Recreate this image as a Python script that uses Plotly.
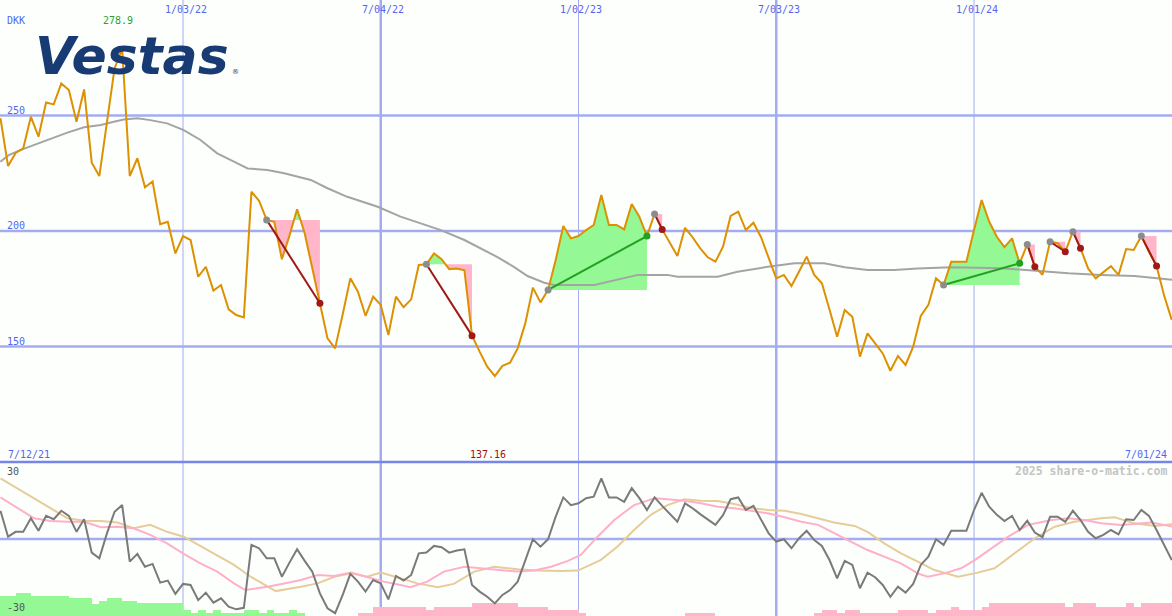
import plotly.graph_objects as go

W, H = 1172, 616

# ---------------- data ----------------
price = [248.8, 228.1, 233.8, 235.8, 249.5, 240.8, 255.6, 254.8, 263.9, 261.0,
         247.3, 261.3, 229.6, 223.8, 247.0, 270.4, 278.9, 223.8, 231.5, 218.9,
         221.4, 202.9, 204.0, 190.3, 197.8, 196.1, 180.2, 184.5, 174.2, 176.6,
         166.1, 163.6, 162.6, 217.0, 213.1, 204.8, 204.0, 187.8, 198.0, 209.4,
         199.0, 184.5, 168.7, 153.5, 149.2, 164.0, 179.5, 173.7, 163.3, 171.6,
         168.0, 155.0, 171.6, 167.0, 170.4, 185.3, 185.6, 190.3, 187.8, 183.5,
         183.8, 183.0, 154.7, 147.8, 141.3, 137.16, 141.6, 143.0, 149.2, 160.0,
         175.5, 169.1, 174.5, 187.4, 202.2, 196.8, 197.8, 200.4, 202.6, 215.6,
         202.6, 202.6, 200.7, 211.7, 206.2, 197.8, 207.4, 200.7, 194.7, 189.2,
         201.4, 197.3, 192.5, 188.6, 186.7, 193.2, 206.5, 208.4, 200.4, 203.6,
         197.3, 188.2, 179.5, 181.0, 176.2, 182.5, 188.9, 181.0, 177.4, 166.0,
         154.2, 165.8, 162.9, 145.6, 155.7, 151.4, 147.0, 139.5, 145.9, 142.0,
         149.9, 163.2, 168.0, 179.5, 176.6, 186.7, 186.7, 186.7, 200.4, 213.4,
         204.0, 197.5, 193.0, 196.8, 186.0, 194.2, 184.5, 181.0, 195.4, 194.7,
         191.0, 199.7, 192.5, 183.8, 179.5, 182.0, 184.8, 181.0, 192.2, 191.8,
         197.8, 191.0, 184.8, 172.0, 161.5]

# moving average (week index, value)
ma_week = [0, 1.1, 2.6, 4.4, 6.6, 8.8, 11.0, 13.2, 14.9, 16.2, 18.0, 19.7, 21.9, 24.1,
           26.3, 28.5, 30.7, 32.5, 35.1, 37.3, 40.8, 43.0, 45.6, 49.6, 52.6, 55.7,
           57.9, 61.0, 63.2, 65.4, 67.5, 69.3, 71.5, 72.8, 78.1, 81.1, 83.8, 87.7,
           89.0, 94.3, 96.9, 100.9, 104.4, 108.3, 111.0, 114.0, 117.5, 120.6, 125.0,
           131.6, 136.0, 140.4, 144.7, 149.1, 154.2]
ma_val = [230.0, 232.9, 235.0, 237.2, 240.1, 242.6, 244.9, 245.9, 247.3, 248.3, 248.8,
          248.0, 246.6, 243.7, 239.4, 233.6, 230.0, 227.1, 226.4, 225.0, 222.1, 218.5,
          214.8, 210.5, 206.2, 203.0, 200.4, 196.1, 192.5, 188.6, 184.5, 180.5, 177.6,
          176.6, 176.6, 178.8, 181.0, 181.0, 180.2, 180.2, 182.4, 184.5, 186.0, 186.0,
          184.3, 183.1, 183.1, 183.8, 184.3, 183.9, 182.8, 181.7, 181.0, 180.5, 178.8]

# trend patterns (start week, end week)
pat_start = [35, 56, 72, 86, 124, 135, 138, 141, 150]
pat_end = [42, 62, 85, 87, 134, 136, 140, 142, 152]

# lower panel oscillator
osc = [11.0, 0.9, 2.8, 2.8, 8.1, 3.2, 9.0, 7.7, 11.0, 9.0,
       2.8, 7.7, -5.3, -7.5, 2.2, 10.6, 13.2, -8.8, -5.8, -10.8,
       -9.7, -17.0, -16.2, -21.4, -17.5, -17.9, -23.8, -20.9, -24.8, -23.1,
       -26.4, -27.4, -26.8, -2.3, -3.6, -7.5, -7.5, -14.7, -9.2, -4.0,
       -8.5, -12.7, -21.2, -27.0, -28.9, -21.8, -13.6, -16.6, -20.5, -16.0,
       -17.3, -23.5, -14.4, -16.2, -14.0, -5.6, -5.3, -2.7, -3.2, -5.3,
       -4.5, -4.0, -17.9, -20.5, -22.5, -25.1, -21.8, -19.9, -16.6, -8.2,
       -0.1, -3.0, -0.1, 8.7, 16.2, 13.2, 13.9, 15.9, 16.5, 23.6,
       16.2, 16.2, 14.5, 19.8, 15.9, 11.3, 16.2, 12.9, 10.0, 6.7,
       13.9, 12.0, 9.7, 7.7, 5.5, 9.3, 15.5, 16.2, 11.3, 12.9,
       7.4, 2.2, -1.0, -0.1, -3.6, 0.3, 3.2, -0.4, -2.7, -8.2,
       -15.3, -8.5, -10.1, -19.2, -13.1, -14.9, -17.9, -22.5, -18.6, -20.9,
       -17.5, -10.1, -6.9, -0.1, -2.3, 3.2, 3.2, 3.2, 11.3, 18.0,
       12.6, 9.4, 7.0, 9.0, 3.5, 7.1, 2.5, 0.7, 8.7, 8.7,
       6.7, 11.0, 7.4, 2.8, 0.3, 1.6, 3.5, 1.8, 7.7, 7.4,
       11.3, 9.0, 3.5, -2.3, -8.2]

pink_week = [0, 2.2, 4.4, 6.6, 8.8, 11.0, 13.2, 15.4, 17.5, 19.7, 21.9, 24.1, 26.3, 28.5,
             30.7, 32.2, 35.1, 37.3, 39.5, 41.7, 43.9, 46.1, 48.2, 50.4, 52.6, 53.9, 56.1,
             58.3, 61.0, 63.6, 65.8, 68.0, 70.2, 72.4, 74.6, 76.3, 78.5, 80.7, 83.3, 86.0,
             87.7, 89.9, 92.1, 94.3, 96.5, 98.7, 100.9, 103.1, 105.3, 107.5, 109.6, 111.8,
             114.0, 116.2, 118.4, 120.6, 121.9, 124.1, 126.3, 128.1, 130.3, 132.5, 135.1,
             138.2, 140.4, 142.5, 144.7, 147.4, 151.3, 154.2]
pink_val = [16.2, 12.0, 8.1, 7.0, 6.7, 6.7, 4.6, 4.8, 4.2, 1.6, -1.7, -5.8, -9.5, -12.7,
            -17.3, -19.9, -18.6, -17.3, -16.0, -14.0, -14.4, -13.1, -14.7, -16.6, -17.9,
            -18.8, -16.6, -12.7, -10.8, -11.4, -12.1, -12.7, -12.3, -10.8, -8.5, -6.2, 0.9,
            7.4, 13.2, 15.9, 15.5, 14.9, 13.9, 12.6, 12.0, 11.0, 10.0, 8.5, 6.7, 5.5, 2.2,
            -1.0, -4.3, -6.9, -9.5, -13.4, -14.7, -13.4, -11.4, -8.2, -3.6, 0.9, 5.5, 7.4,
            8.1, 7.4, 6.1, 5.5, 6.4, 4.8]

tan_week = [0, 2.2, 4.4, 6.6, 8.8, 11.0, 13.2, 15.4, 17.5, 19.7, 21.9, 24.1, 26.3, 28.5,
            30.7, 32.9, 35.1, 36.2, 39.5, 41.7, 43.9, 46.1, 48.2, 50.0, 52.6, 54.8, 57.5,
            59.6, 62.3, 64.9, 68.0, 70.6, 73.7, 75.9, 78.9, 81.1, 83.3, 85.5, 87.7, 89.9,
            92.1, 94.3, 96.5, 98.7, 100.9, 103.1, 105.3, 107.5, 109.6, 112.3, 114.0, 116.2,
            118.4, 120.6, 122.8, 125.9, 128.5, 130.7, 133.3, 136.0, 138.6, 141.2, 144.7,
            146.5, 149.1, 151.8, 154.2]
tan_val = [23.6, 19.8, 15.9, 12.0, 8.1, 7.1, 7.0, 6.4, 4.2, 5.5, 2.8, 0.9, -2.7, -6.2,
           -10.1, -14.7, -18.6, -20.3, -18.6, -17.3, -14.7, -13.4, -14.7, -13.1, -15.3,
           -17.3, -18.8, -17.5, -12.7, -10.8, -11.8, -12.3, -12.5, -12.3, -8.2, -3.0, 3.5,
           9.4, 13.2, 15.5, 14.9, 14.8, 13.6, 12.0, 11.3, 11.0, 9.7, 8.1, 6.4, 5.1, 2.8,
           -1.7, -5.6, -8.8, -12.1, -14.7, -13.1, -11.4, -5.6, 0.3, 4.8, 6.7, 8.1, 8.5,
           6.1, 5.1, 5.8]

# histogram (negative = green, positive = pink), one bar per week interval
hist = [-7.8, -7.8, -9.0, -9.0, -7.8, -7.8, -7.8, -7.8, -7.8, -7.0,
        -7.0, -7.0, -4.7, -5.8, -7.0, -7.0, -5.8, -5.8, -4.9, -4.9,
        -4.9, -4.9, -4.9, -4.9, -2.3, -1.2, -2.3, -1.2, -2.3, -1.2,
        -1.2, -1.2, -2.3, -2.3, -1.2, -2.3, -1.2, -1.2, -2.3, -1.2,
        0, 0, 0, 0, 0, 0, 0, 1.2, 1.2, 3.6,
        3.6, 3.6, 3.6, 3.6, 3.6, 3.6, 2.3, 3.6, 3.6, 3.6,
        3.6, 3.6, 4.9, 4.9, 4.9, 4.9, 4.9, 4.9, 3.6, 3.6,
        3.6, 3.6, 2.3, 2.3, 2.3, 2.3, 1.2, 0, 0, 0,
        0, 0, 0, 0, 0, 0, 0, 0, 0, 0,
        1.2, 1.2, 1.2, 1.2, 0, 0, 0, 0, 0, 0,
        0, 0, 0, 0, 0, 0, 0, 1.2, 2.3, 2.3,
        1.2, 2.3, 2.3, 1.2, 1.2, 1.2, 1.2, 1.2, 2.3, 2.3,
        2.3, 2.3, 1.2, 2.3, 2.3, 3.6, 2.3, 2.3, 2.3, 3.6,
        4.9, 4.9, 4.9, 4.9, 4.9, 4.9, 4.9, 4.9, 4.9, 4.9,
        3.6, 4.9, 4.9, 4.9, 3.6, 3.6, 3.6, 3.6, 4.9, 3.6,
        4.9, 4.9, 4.9, 4.9]

date_weeks = [24, 50, 76, 102, 128]
date_labels = ["1/03/22", "7/04/22", "1/02/23", "7/03/23", "1/01/24"]
major_weeks = [50, 102]
price_ticks = [250, 200, 150]

# ---------------- style ----------------
BG = "#FDFFFD"
GRID = "#A3ACF0"
SEP = "#7585E8"
BLUE_TXT = "#5566EE"
ORANGE = "#DD9000"
GREEN_FILL = "#94F894"
PINK_FILL = "#FFB6C9"
MONO = "DejaVu Sans Mono"

weeks = list(range(len(price)))
fig = go.Figure()

# lower panel histogram
bar_x = [i + 0.5 for i in range(len(hist))]
bar_h = [abs(v) for v in hist]
bar_c = [GREEN_FILL if v < 0 else PINK_FILL for v in hist]
fig.add_trace(go.Bar(x=bar_x, y=bar_h, base=-30, width=1.0, marker=dict(color=bar_c, line=dict(width=0)),
                     yaxis="y2", showlegend=False, hoverinfo="skip"))
fig.add_trace(go.Scatter(x=tan_week, y=tan_val, mode="lines", line=dict(color="#E6CC9A", width=2),
                         yaxis="y2", showlegend=False, hoverinfo="skip"))
fig.add_trace(go.Scatter(x=pink_week, y=pink_val, mode="lines", line=dict(color="#FFB0C8", width=2),
                         yaxis="y2", showlegend=False, hoverinfo="skip"))
fig.add_trace(go.Scatter(x=weeks, y=osc, mode="lines", line=dict(color="#7A7A7A", width=2),
                         yaxis="y2", showlegend=False, hoverinfo="skip"))


def band(s, e, above):
    L = price[s]
    xs, ys = [], []
    for i in range(s, e + 1):
        y = price[i]
        xs.append(i)
        ys.append(max(y, L) if above else min(y, L))
        if i < e:
            y1 = price[i + 1]
            if (y - L) * (y1 - L) < 0:
                xs.append(i + (L - y) / (y1 - y))
                ys.append(L)
    xs += [e, s, s]
    ys += [L, L, ys[0]]
    return xs, ys


for s, e in zip(pat_start, pat_end):
    for above, col in ((True, GREEN_FILL), (False, PINK_FILL)):
        bx, by = band(s, e, above)
        fig.add_trace(go.Scatter(x=bx, y=by, mode="lines", fill="toself", fillcolor=col,
                                 line=dict(width=0, color=col), showlegend=False, hoverinfo="skip"))

fig.add_trace(go.Scatter(x=ma_week, y=ma_val, mode="lines", line=dict(color="#A4A4A4", width=2),
                         showlegend=False, hoverinfo="skip"))
fig.add_trace(go.Scatter(x=weeks, y=price, mode="lines", line=dict(color=ORANGE, width=2),
                         showlegend=False, hoverinfo="skip"))

for s, e in zip(pat_start, pat_end):
    up = price[e] > price[s]
    col = "#22A022" if up else "#A01818"
    fig.add_trace(go.Scatter(x=[s, e], y=[price[s], price[e]], mode="lines",
                             line=dict(color=col, width=2), showlegend=False, hoverinfo="skip"))
    fig.add_trace(go.Scatter(x=[s], y=[price[s]], mode="markers",
                             marker=dict(color="#8C8C8C", size=7), showlegend=False, hoverinfo="skip"))
    fig.add_trace(go.Scatter(x=[e], y=[price[e]], mode="markers",
                             marker=dict(color=col, size=7), showlegend=False, hoverinfo="skip"))

# ---------------- shapes ----------------
shapes = []
for wk in date_weeks:
    shapes.append(dict(type="line", xref="x", yref="paper", x0=wk, x1=wk, y0=0, y1=1,
                       line=dict(color=GRID, width=2.5 if wk in major_weeks else 1), layer="below"))
for p in price_ticks:
    shapes.append(dict(type="line", xref="paper", yref="y", x0=0, x1=1, y0=p, y1=p,
                       line=dict(color=GRID, width=2.5), layer="below"))
shapes.append(dict(type="line", xref="paper", yref="y2", x0=0, x1=1, y0=0, y1=0,
                   line=dict(color=GRID, width=2.5), layer="below"))
shapes.append(dict(type="line", xref="paper", yref="paper", x0=0, x1=1, y0=0.25, y1=0.25,
                   line=dict(color=SEP, width=2.5), layer="below"))

# ---------------- annotations ----------------
def px(xp):
    return xp / W


def py(yp):
    return 1 - yp / H


ann = []


def txt(t, xp, yp, color, size=10, xanchor="left", bold=False, family=MONO):
    ann.append(dict(text=("<b>%s</b>" % t) if bold else t, x=px(xp), y=py(yp), xref="paper",
                    yref="paper", xanchor=xanchor, yanchor="middle", showarrow=False,
                    font=dict(family=family, size=size, color=color)))


for wk, lab in zip(date_weeks, date_labels):
    ann.append(dict(text=lab, x=wk + 0.35, y=py(9), xref="x", yref="paper", xanchor="center",
                    yanchor="middle", showarrow=False, font=dict(family=MONO, size=10, color=BLUE_TXT)))
txt("DKK", 5, 21, BLUE_TXT)
txt("%.1f" % max(price), 101, 21, "#2E9E2E")
for p, yy in zip(price_ticks, [110, 225, 341]):
    txt(str(p), 5, yy, BLUE_TXT)
txt("7/12/21", 6, 454, BLUE_TXT)
txt("%.2f" % min(price), 468, 454, "#A01010")
txt("7/01/24", 1169, 454, BLUE_TXT, xanchor="right")
txt("30", 5, 471, "#555555")
txt("-30", 5, 607, "#555555")
txt("2025 share-o-matic.com", 1169, 471, "#C4C4C4", size=11.5, xanchor="right", bold=True)

ann.append(dict(text="Vestas", x=px(33), y=py(56), xref="paper", yref="paper", xanchor="left",
                yanchor="middle", showarrow=False,
                font=dict(family="DejaVu Sans", size=52, color="#173B72", weight="bold", style="italic")))
ann.append(dict(text="®", x=px(230), y=py(72), xref="paper", yref="paper", xanchor="left",
                yanchor="middle", showarrow=False, font=dict(family="DejaVu Sans", size=7, color="#173B72")))

fig.update_layout(
    width=W, height=H, margin=dict(l=0, r=0, t=0, b=0),
    paper_bgcolor=BG, plot_bgcolor=BG, showlegend=False, bargap=0,
    xaxis=dict(range=[-0.06, 154.03], visible=False, fixedrange=True),
    yaxis=dict(domain=[0.25, 1], range=[100, 300], visible=False, fixedrange=True),
    yaxis2=dict(domain=[0, 0.25], range=[-30, 30], visible=False, anchor="x", fixedrange=True),
    shapes=shapes, annotations=ann,
)

fig.write_html("out.html", config={"displayModeBar": False, "staticPlot": True},
               post_script="document.body.style.margin='0';document.body.style.padding='0';")
